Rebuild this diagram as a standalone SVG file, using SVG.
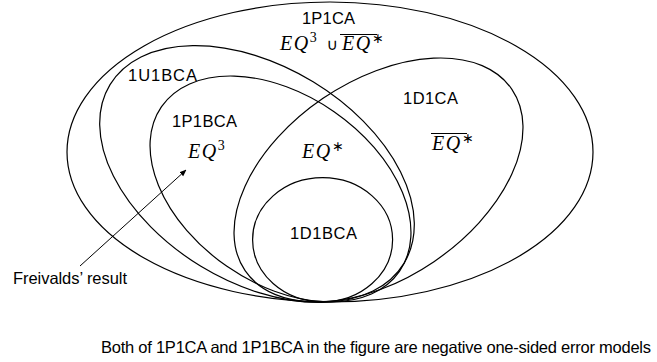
<svg xmlns="http://www.w3.org/2000/svg" width="657" height="362" viewBox="0 0 657 362">
<defs>
<style>
.set{fill:none;stroke:#000;stroke-width:1.2}
.lbl{font-family:"Liberation Sans",Arial,sans-serif;font-size:16.5px;fill:#000}
.m{font-family:"Liberation Serif","Times New Roman",serif;font-style:italic;font-size:20px;fill:#000;letter-spacing:1.5px}
.sup{font-family:"Liberation Serif","Times New Roman",serif;font-style:normal;font-size:14px;letter-spacing:0}
.ov{stroke:#000;stroke-width:1}
.conn{stroke:#000;stroke-width:1;fill:none}
</style>
<marker id="ah" viewBox="0 0 10 10" refX="9" refY="5" markerWidth="7" markerHeight="7" markerUnits="userSpaceOnUse" orient="auto">
<path d="M0,1 L10,5 L0,9 Z" fill="#000"/>
</marker>
</defs>
<rect width="657" height="362" fill="#fff"/>
<g id="n-1P1CA">
<ellipse class="set" cx="330" cy="152" rx="263" ry="150"/>
<text class="lbl" x="302" y="24" textLength="53">1P1CA</text>
<text class="m" x="280" y="50">EQ<tspan class="sup" dy="-8">3</tspan></text>
<text x="326.5" y="50" font-family="'DejaVu Sans',sans-serif" font-size="16" fill="#000">∪</text>
<text class="m" x="342" y="50">EQ<tspan class="sup" dy="-7" font-size="11">∗</tspan></text>
<line class="ov" x1="340" y1="34.5" x2="377" y2="34.5"/>
</g>
<g id="n-1U1BCA">
<ellipse class="set" cx="257" cy="174" rx="172" ry="108" transform="rotate(31.3 257 174)"/>
<text class="lbl" x="128" y="81" textLength="69">1U1BCA</text>
</g>
<g id="n-1P1BCA">
<ellipse class="set" cx="280.5" cy="189" rx="144.7" ry="94.1" transform="rotate(34.7 280.5 189)"/>
<text class="lbl" x="172" y="127" textLength="65">1P1BCA</text>
<text class="m" x="188" y="158">EQ<tspan class="sup" dy="-8">3</tspan></text>
</g>
<g id="n-1D1CA">
<ellipse class="set" cx="378.5" cy="180" rx="161.3" ry="98.7" transform="rotate(-34.2 378.5 180)"/>
<text class="lbl" x="403" y="104" textLength="55">1D1CA</text>
<text class="m" x="432" y="150">EQ<tspan class="sup" dy="-7" font-size="11">∗</tspan></text>
<line class="ov" x1="431" y1="133.5" x2="467" y2="133.5"/>
</g>
<g id="n-EQstar">
<text class="m" x="302" y="158">EQ<tspan class="sup" dy="-7" font-size="11">∗</tspan></text>
</g>
<g id="n-1D1BCA">
<ellipse class="set" cx="322.6" cy="239.7" rx="70" ry="62"/>
<text class="lbl" x="290" y="239" textLength="67">1D1BCA</text>
</g>
<g id="connectors">
<line class="conn" x1="80" y1="266" x2="186" y2="170" marker-end="url(#ah)"/>
</g>
<g id="n-freivalds">
<text class="lbl" x="13" y="284" textLength="114">Freivalds’ result</text>
</g>
<g id="caption">
<text class="lbl" x="101" y="353" font-size="16" textLength="550">Both of 1P1CA and 1P1BCA in the figure are negative one-sided error models</text>
</g>
</svg>
